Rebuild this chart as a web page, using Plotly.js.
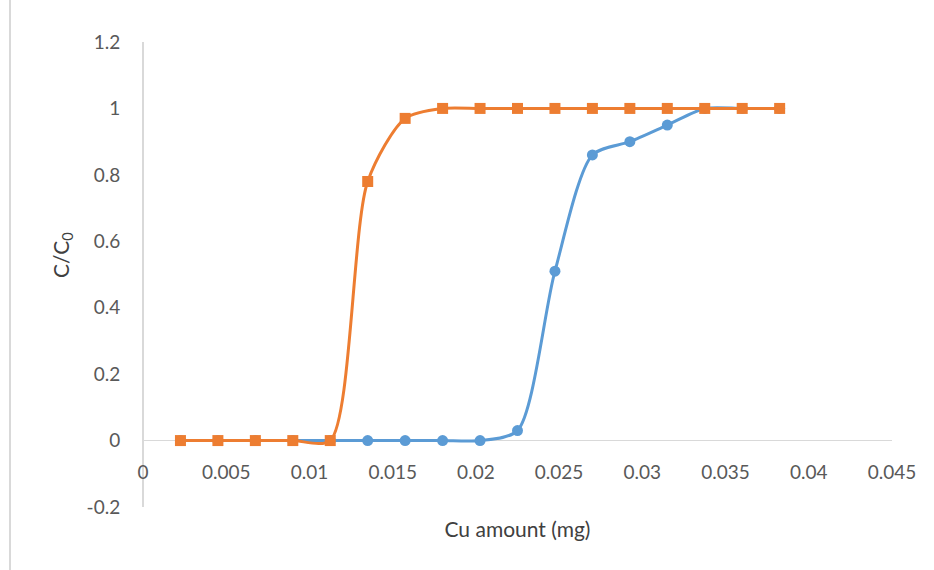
<!DOCTYPE html>
<html>
<head>
<meta charset="utf-8">
<script src="https://cdn.plot.ly/plotly-3.0.1.min.js"></script>
<style>html,body{margin:0;padding:0;background:#fff;}#chart{width:934px;height:570px;}</style>
</head>
<body>
<div id="chart"></div>
<script>
// Cu amount (mg) for each sample
var cuAmount = [0.00225, 0.0045, 0.00675, 0.009, 0.01125, 0.0135, 0.01575, 0.018, 0.02025, 0.0225, 0.02475, 0.027, 0.02925, 0.0315, 0.03375, 0.036, 0.03825];
// C/C0 blue series
var blueValues = [0, 0, 0, 0, 0, 0, 0, 0, 0, 0.03, 0.51, 0.86, 0.90, 0.95, 1.0, 1.0, 1.0];
// C/C0 orange series
var orangeValues = [0, 0, 0, 0, 0, 0.78, 0.97, 1.0, 1.0, 1.0, 1.0, 1.0, 1.0, 1.0, 1.0, 1.0, 1.0];
var xTicks = [0, 0.005, 0.01, 0.015, 0.02, 0.025, 0.03, 0.035, 0.04, 0.045];
var xTickLabels = ['0', '0.005', '0.01', '0.015', '0.02', '0.025', '0.03', '0.035', '0.04', '0.045'];
var yTicks = [-0.2, 0, 0.2, 0.4, 0.6, 0.8, 1, 1.2];
var yTickLabels = ['-0.2', '0', '0.2', '0.4', '0.6', '0.8', '1', '1.2'];

var font = 'Lato, "Open Sans", sans-serif';
var traces = [
  {x: cuAmount, y: blueValues, type: 'scatter', mode: 'lines+markers', name: 'Series 1',
   line: {color: '#5B9BD5', width: 3, shape: 'spline', smoothing: 0.75},
   marker: {symbol: 'circle', size: 11, color: '#5B9BD5'}},
  {x: cuAmount, y: orangeValues, type: 'scatter', mode: 'lines+markers', name: 'Series 2',
   line: {color: '#ED7D31', width: 3, shape: 'spline', smoothing: 0.75},
   marker: {symbol: 'square', size: 11, color: '#ED7D31'}}
];
var layout = {
  width: 934, height: 570,
  margin: {l: 143, r: 42, t: 42, b: 63},
  paper_bgcolor: '#fff', plot_bgcolor: '#fff',
  showlegend: false,
  font: {family: font, color: '#595959', size: 19},
  xaxis: {
    range: [0, 0.045], tickvals: xTicks, ticktext: xTickLabels,
    showgrid: false, zeroline: true, zerolinecolor: '#d9d9d9', zerolinewidth: 1.5,
    showline: false, ticks: 'outside', ticklen: 14, tickcolor: 'rgba(0,0,0,0)',
    anchor: 'free', position: 66 / 465,
    tickfont: {family: font, size: 19, color: '#595959'},
    title: {text: 'Cu amount (mg)', font: {family: font, size: 21, color: '#404040'}, standoff: 40}
  },
  yaxis: {
    range: [-0.2, 1.2], tickvals: yTicks, ticktext: yTickLabels,
    showgrid: false, zeroline: true, zerolinecolor: '#d9d9d9', zerolinewidth: 1.5,
    showline: false, ticks: 'outside', ticklen: 18, tickcolor: 'rgba(0,0,0,0)',
    tickfont: {family: font, size: 19, color: '#595959'}
  },
  annotations: [{
    text: 'C/C<sub>0</sub>', textangle: -90, showarrow: false,
    xref: 'paper', yref: 'paper', x: (62 - 143) / 749, y: (507 - 255) / 465,
    xanchor: 'center', yanchor: 'middle',
    font: {family: font, size: 21, color: '#404040'}
  }],
  shapes: [{
    type: 'line', xref: 'paper', yref: 'paper',
    x0: (10 - 143) / 749, x1: (10 - 143) / 749, y0: -0.14, y1: 1.1,
    line: {color: '#d9d9d9', width: 2}
  }]
};
Plotly.newPlot('chart', traces, layout, {staticPlot: true, displayModeBar: false});
</script>
</body>
</html>
